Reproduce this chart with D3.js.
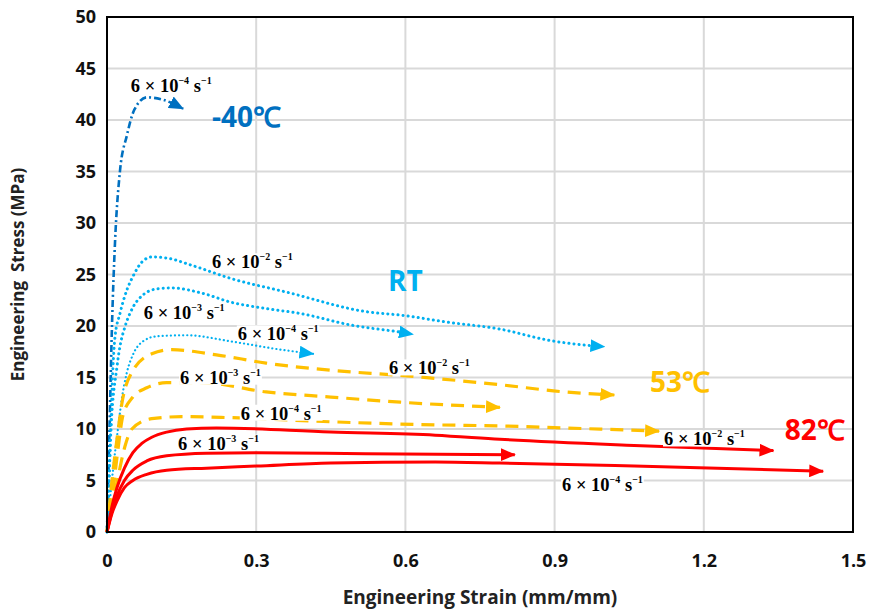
<!DOCTYPE html>
<html>
<head>
<meta charset="utf-8">
<script src="https://cdn.jsdelivr.net/npm/d3@7"></script>
<style>
  body { margin: 0; background: #fff; }
  svg { display: block; }
</style>
</head>
<body>
<script>
// strain (mm/mm) and stress (MPa)
const strainM40_4 = [0, 0.005, 0.01, 0.016, 0.026, 0.04, 0.055, 0.08, 0.11, 0.153];
const stressM40_4 = [0, 10, 20, 28, 35, 38.5, 41, 42.2, 42, 41.1];

const strainRT_2 = [0, 0.005, 0.012, 0.016, 0.026, 0.04, 0.052, 0.07, 0.09, 0.12, 0.17, 0.25, 0.36, 0.52, 0.6, 0.68, 0.79, 0.89, 0.95, 1.0];
const stressRT_2 = [0, 6, 16, 18.9, 21.2, 23.5, 24.8, 26.2, 26.7, 26.6, 25.9, 24.6, 23.3, 21.4, 21.0, 20.4, 19.7, 18.6, 18.2, 18.0];
const strainRT_3 = [0, 0.008, 0.02, 0.026, 0.036, 0.052, 0.072, 0.1, 0.13, 0.19, 0.25, 0.32, 0.39, 0.49, 0.59, 0.615];
const stressRT_3 = [0, 10, 16, 18, 19.9, 21.8, 23.0, 23.6, 23.7, 23.2, 22.3, 21.7, 21.2, 20.1, 19.4, 19.2];
const strainRT_4 = [0, 0.012, 0.022, 0.03, 0.04, 0.052, 0.072, 0.1, 0.16, 0.25, 0.35, 0.415];
const stressRT_4 = [0, 6, 10, 13, 15.5, 17.2, 18.5, 19.0, 19.1, 18.5, 17.7, 17.3];

const strain53_2 = [0, 0.01, 0.02, 0.03, 0.05, 0.09, 0.13, 0.22, 0.32, 0.45, 0.59, 0.79, 0.92, 1.02];
const stress53_2 = [0, 5, 9, 12.5, 15.5, 17.3, 17.7, 17.2, 16.4, 15.7, 15.2, 14.3, 13.6, 13.3];
const strain53_3 = [0, 0.012, 0.022, 0.032, 0.052, 0.08, 0.12, 0.19, 0.32, 0.45, 0.59, 0.79];
const stress53_3 = [0, 4, 8, 11.3, 13.1, 14.0, 14.5, 14.5, 13.6, 13.1, 12.6, 12.1];
const strain53_4 = [0, 0.01, 0.02, 0.036, 0.05, 0.09, 0.15, 0.25, 0.45, 0.66, 0.79, 0.92, 1.11];
const stress53_4 = [0, 2.5, 4.8, 8.3, 10.0, 11.0, 11.2, 11.1, 10.7, 10.4, 10.3, 10.1, 9.8];

const strain82_2 = [0, 0.01, 0.02, 0.035, 0.052, 0.07, 0.09, 0.12, 0.16, 0.22, 0.45, 0.66, 0.79, 1.06, 1.34];
const stress82_2 = [0, 2.5, 4.3, 6.2, 7.7, 8.6, 9.2, 9.7, 10.0, 10.1, 9.7, 9.4, 9.0, 8.4, 7.9];
const strain82_3 = [0, 0.01, 0.02, 0.035, 0.052, 0.08, 0.12, 0.2, 0.3, 0.52, 0.82];
const stress82_3 = [0, 2.0, 3.5, 5.0, 6.0, 6.9, 7.4, 7.65, 7.7, 7.6, 7.5];
const strain82_4 = [0, 0.01, 0.02, 0.035, 0.052, 0.08, 0.12, 0.2, 0.3, 0.45, 0.66, 0.79, 1.06, 1.44];
const stress82_4 = [0, 1.8, 3.0, 4.3, 5.0, 5.6, 6.0, 6.2, 6.4, 6.7, 6.8, 6.7, 6.4, 5.9];

const xTicks = [0, 0.3, 0.6, 0.9, 1.2, 1.5];
const yTicks = [0, 5, 10, 15, 20, 25, 30, 35, 40, 45, 50];

const blueDark = "#0070C0", blueLight = "#00B0F0", yellow = "#FFC000", red = "#FF0000";

const series = [
  { x: strainM40_4, y: stressM40_4, color: blueDark, w: 2.6, dash: "7 3 2 3", cap: "butt" },
  { x: strainRT_2, y: stressRT_2, color: blueLight, w: 3, dash: "0.1 5", cap: "round" },
  { x: strainRT_3, y: stressRT_3, color: blueLight, w: 3, dash: "0.1 5", cap: "round" },
  { x: strainRT_4, y: stressRT_4, color: blueLight, w: 2.2, dash: "0.1 4", cap: "round" },
  { x: strain53_2, y: stress53_2, color: yellow, w: 3.2, dash: "13 8", cap: "butt" },
  { x: strain53_3, y: stress53_3, color: yellow, w: 3.2, dash: "13 8", cap: "butt" },
  { x: strain53_4, y: stress53_4, color: yellow, w: 3.2, dash: "13 8", cap: "butt" },
  { x: strain82_2, y: stress82_2, color: red, w: 3, dash: null, cap: "butt" },
  { x: strain82_3, y: stress82_3, color: red, w: 3, dash: null, cap: "butt" },
  { x: strain82_4, y: stress82_4, color: red, w: 3, dash: null, cap: "butt" }
];

// rate labels: [strain, stress, exponent]
const rateLabels = [
  [0.048, 42.7, "4"], [0.211, 25.6, "2"], [0.074, 20.7, "3"], [0.263, 18.6, "4"],
  [0.567, 15.3, "2"], [0.147, 14.4, "3"], [0.269, 10.9, "4"],
  [1.12, 8.4, "2"], [0.143, 8.0, "3"], [0.915, 4.0, "4"]
];
const tempLabels = [
  [0.211, 39.3, "-40℃", blueDark], [0.565, 23.4, "RT", blueLight],
  [1.092, 13.6, "53℃", yellow], [1.363, 8.9, "82℃", red]
];

const width = 870, height = 611;
const margin = { left: 107, right: 17, top: 17, bottom: 79 };

const svg = d3.select("body").append("svg")
  .attr("width", width)
  .attr("height", height);

const x = d3.scaleLinear().domain([0, 1.5]).range([margin.left, width - margin.right]);
const y = d3.scaleLinear().domain([0, 50]).range([height - margin.bottom, margin.top]);

const sans = "'Open Sans', 'Liberation Sans', sans-serif";
const serif = "'Liberation Serif', 'DejaVu Serif', serif";

// grid
svg.append("g").selectAll("line").data(yTicks).join("line")
  .attr("x1", x(0)).attr("x2", x(1.5))
  .attr("y1", d => y(d)).attr("y2", d => y(d))
  .attr("stroke", "#d9d9d9").attr("stroke-width", 2);
svg.append("g").selectAll("line").data(xTicks).join("line")
  .attr("y1", y(0)).attr("y2", y(50))
  .attr("x1", d => x(d)).attr("x2", d => x(d))
  .attr("stroke", "#d9d9d9").attr("stroke-width", 2);

// axes (labels only)
const xAxis = svg.append("g")
  .attr("transform", `translate(0,${y(0)})`)
  .call(d3.axisBottom(x).tickValues(xTicks).tickSize(0).tickPadding(22).tickFormat(d3.format("")));
const yAxis = svg.append("g")
  .attr("transform", `translate(${x(0)},0)`)
  .call(d3.axisLeft(y).tickValues(yTicks).tickSize(0).tickPadding(11));
[xAxis, yAxis].forEach(a => {
  a.select(".domain").remove();
  a.selectAll("text")
    .attr("font-family", sans).attr("font-weight", "bold")
    .attr("font-size", 18).attr("fill", "#111");
});

svg.append("text")
  .attr("x", (x(0) + x(1.5)) / 2).attr("y", 604)
  .attr("text-anchor", "middle")
  .attr("font-family", sans).attr("font-weight", "bold").attr("font-size", 19)
  .attr("fill", "#222")
  .text("Engineering Strain (mm/mm)");
svg.append("text")
  .attr("transform", `translate(24,${(y(0) + y(50)) / 2}) rotate(-90)`)
  .attr("text-anchor", "middle")
  .attr("font-family", sans).attr("font-weight", "bold").attr("font-size", 17)
  .attr("fill", "#222")
  .style("white-space", "pre")
  .text("Engineering  Stress (MPa)");

// arrow markers
const defs = svg.append("defs");
[blueDark, blueLight, yellow, red].forEach((c, i) => {
  defs.append("marker")
    .attr("id", "arrow" + i)
    .attr("viewBox", "0 0 14 12")
    .attr("refX", 13).attr("refY", 6)
    .attr("markerUnits", "userSpaceOnUse")
    .attr("markerWidth", 15).attr("markerHeight", 13)
    .attr("orient", "auto")
    .append("path")
    .attr("d", "M0,0 L14,6 L0,12 Z")
    .attr("fill", c);
});
const markerIndex = { [blueDark]: 0, [blueLight]: 1, [yellow]: 2, [red]: 3 };

const line = d3.line()
  .x(d => x(d[0]))
  .y(d => y(d[1]))
  .curve(d3.curveMonotoneX);

const curves = svg.append("g");
series.forEach(s => {
  const pts = s.x.map((v, i) => [v, s.y[i]]);
  const p = curves.append("path")
    .datum(pts)
    .attr("d", line)
    .attr("fill", "none")
    .attr("stroke", s.color)
    .attr("stroke-width", s.w)
    .attr("stroke-linecap", s.cap)
    .attr("marker-end", `url(#arrow${markerIndex[s.color]})`);
  if (s.dash) p.attr("stroke-dasharray", s.dash);
});

// frame
svg.append("rect")
  .attr("x", x(0)).attr("y", y(50))
  .attr("width", x(1.5) - x(0)).attr("height", y(0) - y(50))
  .attr("fill", "none").attr("stroke", "#000").attr("stroke-width", 2);

// rate labels with white boxes (box stops just under the baseline)
const labG = svg.append("g");
rateLabels.forEach(([sx, sy, e]) => {
  const g = labG.append("g");
  const t = g.append("text")
    .attr("x", x(sx)).attr("y", y(sy))
    .attr("font-family", serif).attr("font-weight", "bold")
    .attr("font-size", 18.5).attr("fill", "#000");
  t.append("tspan").text("6 × 10");
  t.append("tspan").attr("font-size", 10).attr("dy", -8).text("−" + e);
  t.append("tspan").attr("dy", 8).text(" s");
  t.append("tspan").attr("font-size", 10).attr("dy", -8).text("−1");
  const bb = t.node().getBBox();
  const top = bb.y + 2;
  g.insert("rect", "text")
    .attr("x", bb.x - 1).attr("y", top)
    .attr("width", bb.width + 2).attr("height", y(sy) + 1 - top)
    .attr("fill", "#fff");
});

tempLabels.forEach(([sx, sy, txt, c]) => {
  svg.append("text")
    .attr("x", x(sx)).attr("y", y(sy))
    .attr("font-family", sans).attr("font-weight", "bold")
    .attr("font-size", 28).attr("fill", c)
    .text(txt);
});
</script>
</body>
</html>
